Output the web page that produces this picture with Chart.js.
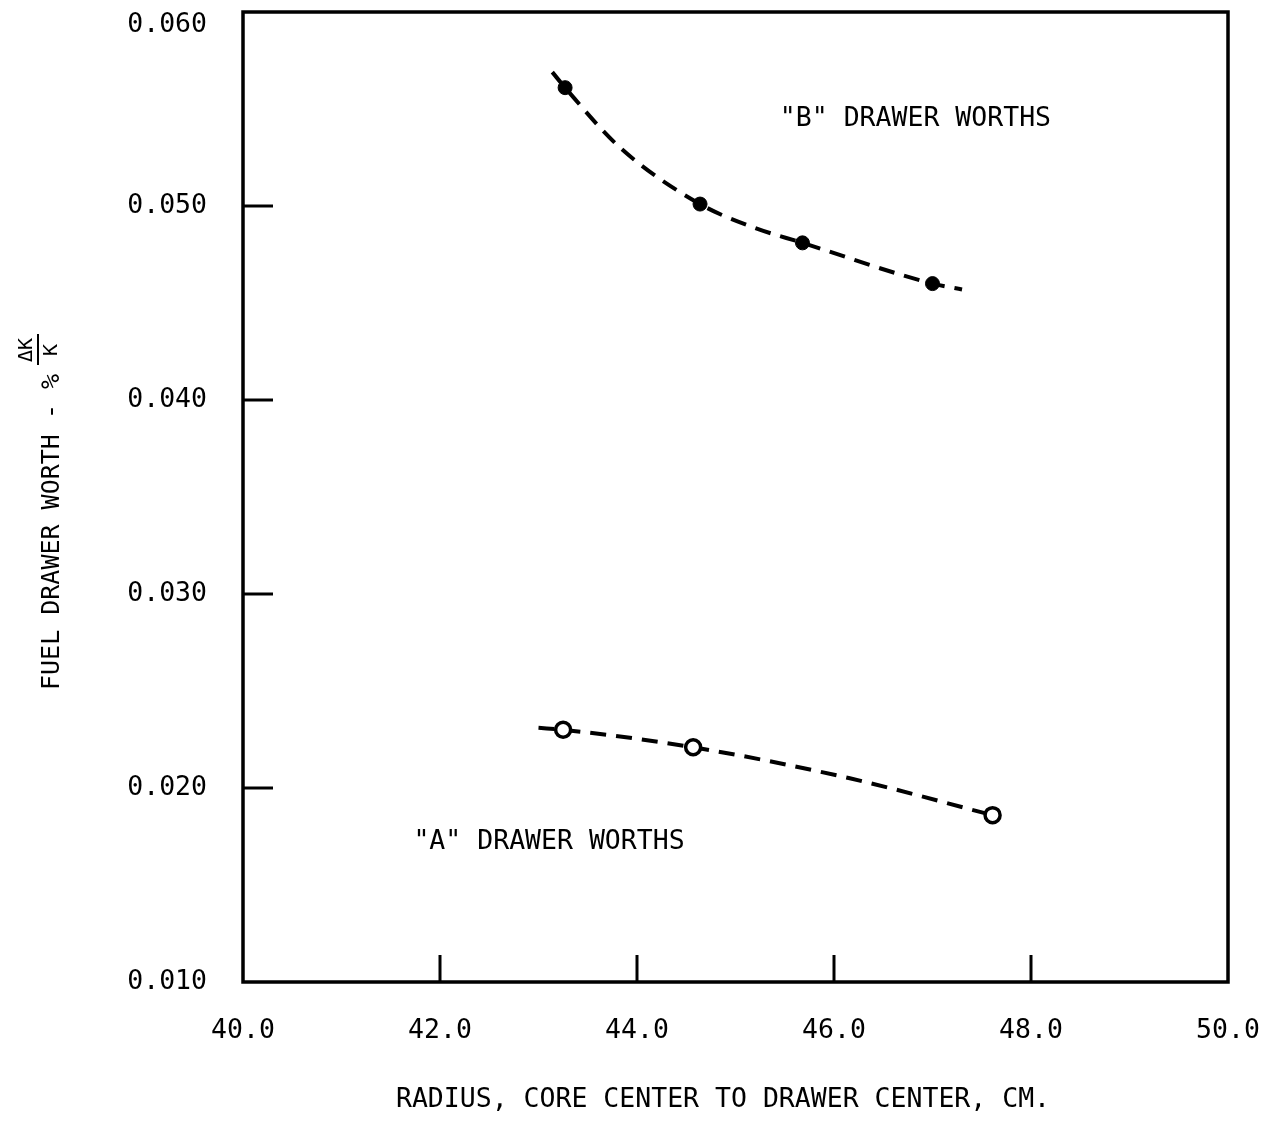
<!DOCTYPE html>
<html>
<head>
<meta charset="utf-8">
<script src="https://cdn.jsdelivr.net/npm/chart.js@4.4.0/dist/chart.umd.min.js"></script>
<style>
  html, body { margin: 0; padding: 0; background: #fff; }
  #grafico { display: block; }
</style>
</head>
<body>
<canvas id="grafico" width="1267" height="1121"></canvas>
<script>
// valores
const raioB = [43.27, 44.64, 45.68, 47.00];
const valorB = [0.0561, 0.0501, 0.0481, 0.0460];
const raioA = [43.25, 44.57, 47.61];
const valorA = [0.0230, 0.0221, 0.0186];

// curvas tracejadas (pontos lidos ao longo da curva)
const curvaBx = [43.14, 43.27, 43.83, 44.64, 45.18, 45.68, 47.00, 47.30];
const curvaBy = [0.0569, 0.0561, 0.0530, 0.0501, 0.0489, 0.0481, 0.0460, 0.0457];
const curvaAx = [43.00, 43.25, 44.57, 46.16, 47.61];
const curvaAy = [0.0231, 0.0230, 0.0221, 0.0205, 0.0186];

const ticksX = [40, 42, 44, 46, 48, 50];
const ticksY = [0.010, 0.020, 0.030, 0.040, 0.050, 0.060];

const textos = [
  { texto: '"B" DRAWER WORTHS', x: 45.45, y: 0.0545 },
  { texto: '"A" DRAWER WORTHS', x: 41.73, y: 0.0172 }
];

const FONTE = "'DejaVu Sans Mono', monospace";

function pares(xs, ys) {
  return xs.map((x, i) => ({ x: x, y: ys[i] }));
}

function semMargem(scale) {
  scale.paddingTop = 0;
  scale.paddingBottom = 0;
  scale.paddingLeft = 0;
  scale.paddingRight = 0;
}

const moldura = {
  id: 'moldura',
  afterDraw(chart) {
    const ctx = chart.ctx;
    const a = chart.chartArea;
    const sx = chart.scales.x;
    const sy = chart.scales.y;
    ctx.save();
    ctx.strokeStyle = '#000';
    ctx.lineWidth = 3.5;
    ctx.strokeRect(a.left, a.top, a.right - a.left, a.bottom - a.top);

    // marcas para dentro
    ctx.lineWidth = 3;
    ticksX.slice(1, -1).forEach(v => {
      const px = sx.getPixelForValue(v);
      ctx.beginPath();
      ctx.moveTo(px, a.bottom);
      ctx.lineTo(px, a.bottom - 27);
      ctx.stroke();
    });
    ticksY.slice(1, -1).forEach(v => {
      const py = sy.getPixelForValue(v);
      ctx.beginPath();
      ctx.moveTo(a.left, py);
      ctx.lineTo(a.left + 30, py);
      ctx.stroke();
    });

    ctx.fillStyle = '#000';
    ctx.font = '26.5px ' + FONTE;
    ctx.textBaseline = 'middle';
    ctx.textAlign = 'left';
    textos.forEach(t => {
      ctx.fillText(t.texto, sx.getPixelForValue(t.x), sy.getPixelForValue(t.y));
    });

    // titulo eixo x
    ctx.textAlign = 'center';
    ctx.fillText('RADIUS, CORE CENTER TO DRAWER CENTER, CM.', 723, 1100);

    // titulo eixo y
    ctx.translate(52, 690);
    ctx.rotate(-Math.PI / 2);
    ctx.textAlign = 'left';
    ctx.font = '25px ' + FONTE;
    ctx.fillText('FUEL DRAWER WORTH - %', 0, 0);
    ctx.font = '20px ' + FONTE;
    ctx.textAlign = 'center';
    ctx.fillText('ΔK', 340, -25);
    ctx.fillText('K', 340, 0);
    ctx.lineWidth = 2;
    ctx.beginPath();
    ctx.moveTo(325, -14);
    ctx.lineTo(356, -14);
    ctx.stroke();
    ctx.restore();
  }
};

const tracejado = {
  borderColor: '#000',
  borderWidth: 4,
  borderDash: [16, 10],
  pointRadius: 0,
  showLine: true,
  fill: false,
  cubicInterpolationMode: 'monotone'
};

new Chart(document.getElementById('grafico'), {
  type: 'scatter',
  data: {
    datasets: [
      {
        label: 'B',
        data: pares(raioB, valorB),
        pointRadius: 7,
        pointBackgroundColor: '#000',
        pointBorderColor: '#000',
        pointBorderWidth: 1
      },
      {
        label: 'A',
        data: pares(raioA, valorA),
        pointRadius: 7.5,
        pointBackgroundColor: '#fff',
        pointBorderColor: '#000',
        pointBorderWidth: 3.5
      },
      Object.assign({ label: 'curva B', data: pares(curvaBx, curvaBy) }, tracejado),
      Object.assign({ label: 'curva A', data: pares(curvaAx, curvaAy) }, tracejado)
    ]
  },
  options: {
    responsive: false,
    animation: false,
    events: [],
    layout: { padding: { top: 12, right: 39, left: 0, bottom: 0 } },
    plugins: {
      legend: { display: false },
      tooltip: { enabled: false }
    },
    scales: {
      x: {
        type: 'linear',
        min: 40,
        max: 50,
        afterFit(scale) { scale.height = 139; semMargem(scale); },
        afterBuildTicks(scale) { scale.ticks = ticksX.map(v => ({ value: v })); },
        grid: { display: false, drawTicks: false },
        border: { display: false },
        ticks: {
          padding: 33,
          color: '#000',
          font: { family: FONTE, size: 26.5 },
          maxRotation: 0,
          callback: v => v.toFixed(1)
        }
      },
      y: {
        type: 'linear',
        min: 0.010,
        max: 0.060,
        afterFit(scale) { scale.width = 243; semMargem(scale); },
        afterBuildTicks(scale) { scale.ticks = ticksY.map(v => ({ value: v })); },
        grid: { display: false, drawTicks: false },
        border: { display: false },
        ticks: {
          padding: 36,
          color: '#000',
          font: { family: FONTE, size: 26.5, lineHeight: 1 },
          // o rotulo do topo fica um pouco abaixo da borda
          callback: v => Math.abs(v - 0.06) < 1e-9 ? ['', v.toFixed(3)] : v.toFixed(3)
        }
      }
    }
  },
  plugins: [moldura]
});
</script>
</body>
</html>
